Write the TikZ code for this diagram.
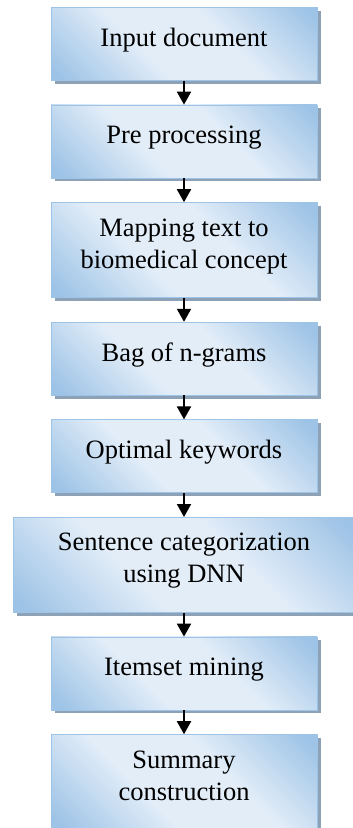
\documentclass[tikz,border=0pt]{standalone}
\usepackage{fontspec}
\setmainfont{Liberation Serif}
\usetikzlibrary{positioning,shadows,arrows.meta}
\definecolor{boxBlue}{HTML}{9DC3E6}
\definecolor{boxLight}{HTML}{E2EDF8}
\definecolor{boxShadow}{HTML}{8DA1B7}
\pgfdeclareverticalshading{boxShade}{100bp}{color(0bp)=(boxBlue); color(17bp)=(boxBlue);
  color(40bp)=(boxLight); color(60bp)=(boxLight); color(83bp)=(boxBlue); color(100bp)=(boxBlue)}
\newcommand{\flowArrow}[2]{%%
  \draw[arrowStyle] (#1.south) -- (#2.north);
}

\begin{document}
\begin{tikzpicture}[x=1pt,y=1pt,%%
  boxStyle/.style={rectangle,draw=boxBlue,line width=0.6pt,%%
    minimum width=266pt,minimum height=73pt,inner sep=0pt,align=center,%%
    font=\fontsize{26.5}{32}\selectfont,text depth=13.5pt,%%
    shade,shading=boxShade,shading angle=-45,%%
    drop shadow={shadow xshift=3.5pt,shadow yshift=-3.5pt,fill=boxShadow,opacity=1}},%%
  tallStyle/.style={boxStyle,minimum height=95pt},%%
  wideStyle/.style={tallStyle,minimum width=342pt},%%
  arrowStyle/.style={-{Triangle[width=14pt,length=13pt]},line width=2pt,black},%%
  node distance=24pt
]
\useasboundingbox (0,0) rectangle (353,-828);
%%
%% The steps, top to bottom.
\node[boxStyle,anchor=north] (input) at (184,-7) {Input document};
\node[boxStyle,below=of input] (prep) {Pre processing};
\node[tallStyle,below=of prep] (mapping) {Mapping text to\\biomedical concept};
\node[boxStyle,below=of mapping] (ngrams) {Bag of n-grams};
\node[boxStyle,below=of ngrams] (keywords) {Optimal keywords};
\node[wideStyle,below=of keywords] (categ) {Sentence categorization\\using DNN};
\node[boxStyle,below=of categ] (itemset) {Itemset mining};
\node[tallStyle,below=of itemset] (summary) {Summary\\construction};
%%
%% Arrows between the steps.
\foreach \a/\b in {input/prep,prep/mapping,mapping/ngrams,ngrams/keywords,%%
  keywords/categ,categ/itemset,itemset/summary}{
  \flowArrow{\a}{\b}
};
\end{tikzpicture}
\end{document}
